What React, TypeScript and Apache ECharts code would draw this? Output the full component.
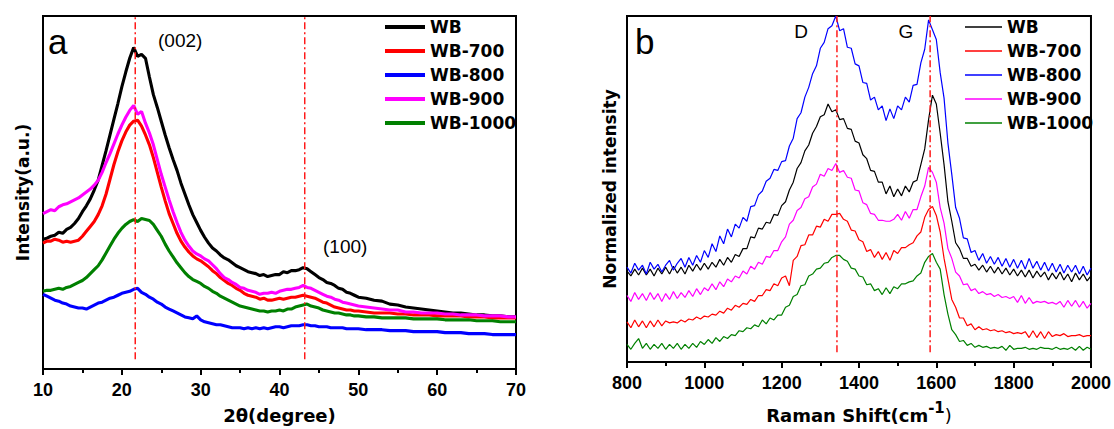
import { useEffect, useRef } from "react";
import * as echarts from "echarts";

// ---------- shared ----------
const seriesNames = ["WB", "WB-700", "WB-800", "WB-900", "WB-1000"];
const seriesColors = ["#000000", "#ff0000", "#0000ff", "#ff00ff", "#008000"];

// ---------- panel a : XRD ----------
// sampling grid: 10..50 every 0.5 deg, then 51..70 every 1 deg
const xrdAngles: number[] = [
  ...Array.from({ length: 81 }, (_, i) => 10 + i * 0.5),
  ...Array.from({ length: 20 }, (_, i) => 51 + i),
];
const xrdTicks = [10, 20, 30, 40, 50, 60, 70];
const xrdPeaks = [21.7, 43.2];
const xrdPeakLabels = ["(002)", "(100)"];

const xrdWB = [
  132, 133, 135, 136, 139, 138, 142, 144, 148, 153,
  160, 166, 173, 182, 192, 207, 222, 238, 254, 270,
  287, 302, 316, 327, 318, 320, 316, 297, 279, 266,
  252, 238, 225, 213, 202, 189, 178, 167, 157, 149,
  141, 134, 128, 123, 120, 116, 113, 111, 108, 105,
  103, 101, 99, 98, 97, 95, 96, 94, 95, 96,
  96, 99, 98, 100, 100, 101, 103, 102, 99, 96,
  93, 91, 88, 87, 85, 82, 81, 78, 77, 75,
  73,
  72, 70, 69, 66, 65, 63, 62, 61, 60, 59,
  58, 57, 57, 56, 55, 55, 54, 54, 53, 53,
];
const xrdWB700 = [
  128, 130, 130, 132, 131, 129, 130, 129, 130, 131,
  135, 140, 145, 150, 157, 166, 178, 193, 208, 221,
  232, 241, 248, 252, 253, 247, 238, 228, 215, 200,
  185, 171, 158, 148, 138, 130, 124, 119, 115, 112,
  110, 107, 104, 100, 97, 93, 90, 87, 85, 82,
  80, 77, 75, 74, 73, 71, 72, 70, 70, 71,
  72, 71, 72, 73, 73, 74, 75, 74, 73, 72,
  70, 68, 67, 65, 63, 62, 61, 60, 60, 59,
  59,
  58, 57, 57, 57, 56, 56, 55, 55, 55, 54,
  54, 54, 54, 53, 53, 53, 52, 52, 52, 52,
];
const xrdWB800 = [
  76, 74, 72, 70, 69, 67, 66, 64, 63, 62,
  62, 61, 63, 65, 67, 68, 70, 72, 73, 75,
  77, 78, 79, 81, 82, 78, 76, 73, 71, 68,
  66, 63, 61, 59, 57, 55, 53, 52, 51, 54,
  50, 48, 47, 46, 45, 45, 44, 43, 42, 42,
  42, 41, 42, 41, 42, 41, 42, 41, 42, 43,
  43, 42, 43, 44, 44, 44, 45, 45, 44, 44,
  43, 43, 43, 42, 42, 42, 42, 41, 41, 41,
  41,
  40, 40, 40, 39, 39, 39, 38, 38, 38, 38,
  37, 37, 37, 36, 36, 36, 35, 35, 35, 35,
];
const xrdWB900 = [
  158, 160, 162, 161, 165, 167, 168, 170, 172, 174,
  177, 180, 183, 187, 192, 200, 210, 219, 229, 239,
  248, 256, 263, 268, 259, 262, 250, 240, 228, 213,
  198, 185, 172, 160, 149, 139, 131, 125, 120, 117,
  115, 112, 110, 106, 102, 97, 93, 91, 88, 86,
  83, 82, 80, 79, 78, 76, 77, 77, 78, 77,
  79, 80, 81, 81, 82, 83, 85, 83, 82, 80,
  78, 76, 74, 73, 71, 70, 68, 67, 66, 65,
  64,
  63, 62, 61, 60, 60, 58, 58, 57, 57, 57,
  56, 56, 55, 55, 55, 54, 54, 54, 53, 53,
];
const xrdWB1000 = [
  79, 80, 80, 81, 82, 81, 83, 84, 86, 88,
  90, 93, 97, 101, 105, 111, 118, 125, 132, 138,
  143, 147, 150, 152, 150, 153, 152, 151, 147, 141,
  135, 127, 120, 114, 108, 103, 98, 94, 91, 89,
  87, 84, 82, 79, 77, 74, 72, 70, 68, 66,
  64, 63, 62, 61, 60, 59, 59, 58, 59, 59,
  60, 59, 61, 61, 63, 64, 65, 66, 64, 63,
  62, 60, 59, 58, 57, 57, 56, 55, 55, 54,
  54,
  53, 53, 52, 52, 52, 52, 51, 51, 51, 51,
  50, 50, 50, 50, 49, 49, 49, 48, 48, 48,
];
const xrdSeries = [xrdWB, xrdWB700, xrdWB800, xrdWB900, xrdWB1000];

// ---------- panel b : Raman ----------
const ramanShift: number[] = Array.from({ length: 121 }, (_, i) => 800 + i * 10);
const ramanTicks = [800, 1000, 1200, 1400, 1600, 1800, 2000];
const ramanPeaks = [1343, 1584];
const ramanPeakLabels = ["D", "G"];

const ramanWB = [
  93, 88, 95, 89, 96, 89, 95, 88, 96, 90,
  97, 90, 98, 91, 97, 90, 99, 93, 100, 94,
  101, 95, 102, 97, 105, 99, 107, 102, 110, 108,
  116, 116, 128, 127, 137, 136, 143, 142, 151, 150,
  160, 164, 176, 184, 198, 204, 216, 222, 234, 241,
  251, 253, 264, 256, 258, 248, 249, 239, 238, 226,
  224, 212, 208, 196, 195, 184, 184, 172, 180, 169,
  177, 170, 180, 174, 184, 186, 202, 218, 248, 273,
  264, 234, 202, 164, 144, 122, 116, 106, 106, 98,
  100, 94, 99, 92, 98, 91, 97, 90, 96, 89,
  95, 88, 94, 87, 94, 86, 93, 87, 92, 84,
  91, 85, 92, 84, 90, 82, 91, 84, 90, 83,
  88,
];
const ramanWB700 = [
  41, 35, 43, 36, 42, 35, 42, 36, 43, 37,
  42, 40, 41, 40, 43, 41, 44, 43, 46, 44,
  47, 46, 49, 48, 52, 50, 55, 53, 58, 56,
  60, 59, 64, 62, 68, 68, 74, 73, 80, 78,
  86, 88, 78, 104, 108, 119, 120, 130, 130, 139,
  138, 146, 144, 151, 151, 152, 146, 144, 135, 134,
  125, 123, 113, 115, 107, 113, 105, 112, 104, 114,
  111, 117, 117, 120, 122, 129, 133, 148, 156, 159,
  150, 133, 106, 85, 64, 56, 45, 45, 37, 39,
  33, 36, 33, 34, 32, 33, 31, 32, 30, 31,
  29, 30, 29, 31, 25, 32, 25, 31, 24, 31,
  26, 28, 27, 29, 26, 27, 27, 28, 26, 27,
  27,
];
const ramanWB800 = [
  97, 91, 101, 94, 99, 90, 102, 95, 100, 92,
  99, 104, 94, 101, 106, 97, 107, 99, 109, 102,
  114, 107, 121, 113, 129, 121, 136, 128, 141, 137,
  148, 144, 159, 160, 171, 175, 185, 188, 197, 196,
  205, 206, 221, 229, 249, 255, 271, 281, 295, 303,
  321, 327, 341, 344, 354, 339, 341, 322, 321, 305,
  303, 286, 285, 268, 271, 258, 262, 247, 259, 249,
  262, 258, 271, 266, 283, 284, 306, 320, 350, 340,
  330, 296, 270, 224, 192, 158, 147, 127, 126, 112,
  114, 104, 111, 101, 108, 100, 107, 98, 106, 97,
  105, 96, 104, 95, 106, 96, 103, 94, 102, 93,
  101, 92, 100, 91, 99, 92, 99, 90, 98, 89,
  96,
];
const ramanWB900 = [
  68, 62, 71, 64, 70, 63, 71, 64, 70, 62,
  70, 64, 72, 65, 71, 66, 73, 67, 75, 69,
  76, 73, 80, 74, 82, 77, 85, 82, 88, 86,
  93, 90, 98, 95, 102, 100, 108, 107, 114, 114,
  123, 128, 141, 145, 155, 158, 167, 169, 179, 182,
  192, 190, 198, 196, 203, 194, 196, 189, 188, 176,
  175, 163, 161, 152, 151, 145, 145, 144, 144, 146,
  151, 145, 154, 147, 156, 156, 169, 180, 199, 194,
  184, 158, 142, 116, 106, 92, 88, 79, 80, 73,
  75, 70, 72, 69, 70, 67, 69, 66, 67, 65,
  67, 61, 68, 60, 66, 60, 62, 61, 62, 60,
  61, 59, 62, 56, 63, 57, 63, 56, 62, 55,
  60,
];
const ramanWB1000 = [
  18, 13, 19, 24, 14, 19, 13, 18, 14, 19,
  13, 18, 14, 19, 13, 18, 14, 19, 15, 21,
  18, 23, 19, 25, 21, 26, 24, 28, 27, 32,
  31, 35, 34, 38, 36, 43, 39, 45, 43, 48,
  48, 56, 58, 67, 69, 78, 79, 88, 90, 95,
  96, 101, 102, 107, 109, 109, 105, 103, 96, 95,
  88, 87, 79, 80, 73, 75, 69, 76, 70, 77,
  75, 80, 80, 82, 83, 88, 91, 102, 108, 111,
  102, 95, 69, 49, 33, 28, 21, 22, 17, 19,
  15, 17, 15, 16, 14, 15, 14, 16, 12, 17,
  13, 14, 14, 15, 13, 14, 13, 15, 14, 14,
  13, 15, 13, 14, 13, 15, 12, 16, 12, 15,
  13,
];
const ramanSeries = [ramanWB, ramanWB700, ramanWB800, ramanWB900, ramanWB1000];

// ---------- styling constants ----------
const BOLD = "DejaVu Sans";
const ARIAL = "Liberation Sans";
const A_YMAX = 359;
const B_YMAX = 354;

function xAxisCommon(gridIndex: number, min: number, max: number, interval: number) {
  return {
    type: "value" as const,
    gridIndex,
    min,
    max,
    interval,
    axisLine: { show: true, onZero: false, lineStyle: { color: "#000", width: 2 } },
    axisTick: { show: true, inside: false, length: 6, lineStyle: { color: "#000", width: 2 } },
    minorTick: { show: true, splitNumber: 2, length: 4, lineStyle: { color: "#000", width: 2 } },
    splitLine: { show: false },
    minorSplitLine: { show: false },
    axisLabel: {
      color: "#000",
      fontSize: 18,
      fontWeight: "bold" as const,
      fontFamily: ARIAL,
      margin: 12,
      formatter: (v: number) => String(v),
    },
  };
}

function yAxisCommon(gridIndex: number, max: number, name: string, nameGap: number) {
  return {
    type: "value" as const,
    gridIndex,
    min: 0,
    max,
    axisLine: { show: false },
    axisTick: { show: false },
    axisLabel: { show: false },
    splitLine: { show: false },
    name,
    nameLocation: "middle" as const,
    nameGap,
    nameTextStyle: { color: "#000", fontSize: 17, fontWeight: "bold" as const, fontFamily: BOLD },
  };
}

function buildOption() {
  const series: any[] = [];
  seriesNames.forEach((name, k) => {
    series.push({
      name,
      type: "line",
      xAxisIndex: 0,
      yAxisIndex: 0,
      data: xrdAngles.map((x, i) => [x, xrdSeries[k][i]]),
      showSymbol: false,
      symbol: "none",
      color: seriesColors[k],
      lineStyle: { color: seriesColors[k], width: 3.1 },
      silent: true,
    });
  });
  seriesNames.forEach((name, k) => {
    series.push({
      name,
      type: "line",
      xAxisIndex: 1,
      yAxisIndex: 1,
      data: ramanShift.map((x, i) => [x, ramanSeries[k][i]]),
      showSymbol: false,
      symbol: "none",
      color: seriesColors[k],
      lineStyle: { color: seriesColors[k], width: 1.2 },
      silent: true,
    });
  });
  const peakLine = (xAxisIndex: number, x: number, lo: number, hi: number) => ({
    name: "peak",
    type: "line",
    xAxisIndex,
    yAxisIndex: xAxisIndex,
    data: [
      [x, lo],
      [x, hi],
    ],
    showSymbol: false,
    symbol: "none",
    lineStyle: { color: "#ff1a1a", width: 1.5, type: [7, 3, 2, 3] },
    silent: true,
    z: 5,
  });
  xrdPeaks.forEach((x) => series.push(peakLine(0, x, 10, A_YMAX)));
  ramanPeaks.forEach((x) => series.push(peakLine(1, x, 10, B_YMAX)));

  const legendCommon = {
    data: seriesNames,
    orient: "vertical" as const,
    top: 18,
    itemGap: 6,
    icon: "rect",
    padding: 0,
    selectedMode: false,
    textStyle: { color: "#000", fontSize: 17, fontWeight: "bold" as const, fontFamily: BOLD, lineHeight: 18 },
  };

  const annText = (text: string, x: number, y: number, size: number, align: string) => ({
    type: "text",
    x,
    y,
    silent: true,
    style: {
      text,
      fill: "#000",
      fontSize: size,
      fontFamily: ARIAL,
      align,
      verticalAlign: "middle",
    },
  });

  return {
    animation: false,
    backgroundColor: "#ffffff",
    grid: [
      { left: 43, top: 16, width: 473, height: 359, show: true, borderColor: "#000", borderWidth: 2, backgroundColor: "transparent" },
      { left: 627, top: 16, width: 464, height: 354, show: true, borderColor: "#000", borderWidth: 2, backgroundColor: "transparent" },
    ],
    xAxis: [
      {
        ...xAxisCommon(0, xrdTicks[0], xrdTicks[xrdTicks.length - 1], xrdTicks[1] - xrdTicks[0]),
        name: "2θ(degree)",
        nameLocation: "middle",
        nameGap: 37,
        nameTextStyle: { color: "#000", fontSize: 18, fontWeight: "bold", fontFamily: BOLD },
      },
      {
        ...xAxisCommon(1, ramanTicks[0], ramanTicks[ramanTicks.length - 1], ramanTicks[1] - ramanTicks[0]),
        name: "{a|Raman Shift(cm}{s|-1}{n|)}",
        nameLocation: "middle",
        nameGap: 38,
        nameTextStyle: {
          color: "#000",
          rich: {
            a: { fontSize: 18, fontWeight: "bold", fontFamily: BOLD, color: "#000", lineHeight: 24, verticalAlign: "bottom" },
            s: { fontSize: 15, fontWeight: "bold", fontFamily: BOLD, color: "#000", lineHeight: 6, verticalAlign: "top" },
            n: { fontSize: 18, fontWeight: "normal", fontFamily: BOLD, color: "#000", lineHeight: 24, verticalAlign: "bottom" },
          },
        },
      },
    ],
    yAxis: [yAxisCommon(0, A_YMAX, "Intensity(a.u.)", 12), yAxisCommon(1, B_YMAX, "Normalized intensity", 9)],
    legend: [
      { ...legendCommon, left: 385, itemWidth: 40, itemHeight: 4 },
      { ...legendCommon, left: 965, itemWidth: 37, itemHeight: 1.5 },
    ],
    graphic: [
      annText("a", 48, 41, 35, "left"),
      annText("b", 635, 41, 35, "left"),
      annText(xrdPeakLabels[0], 158, 40, 19, "left"),
      annText(xrdPeakLabels[1], 323, 246.5, 19, "left"),
      annText(ramanPeakLabels[0], 801, 31.7, 19, "center"),
      annText(ramanPeakLabels[1], 906, 31.7, 19, "center"),
    ],
    series,
  };
}

export default function App() {
  const ref = useRef<HTMLDivElement>(null);
  useEffect(() => {
    if (!ref.current) return;
    const chart = echarts.init(ref.current, null, { renderer: "svg" });
    chart.setOption(buildOption() as any);
    return () => chart.dispose();
  }, []);
  return (
    <div
      ref={ref}
      style={{ position: "fixed", left: 0, top: 0, width: 1114, height: 429, background: "#fff" }}
    />
  );
}
